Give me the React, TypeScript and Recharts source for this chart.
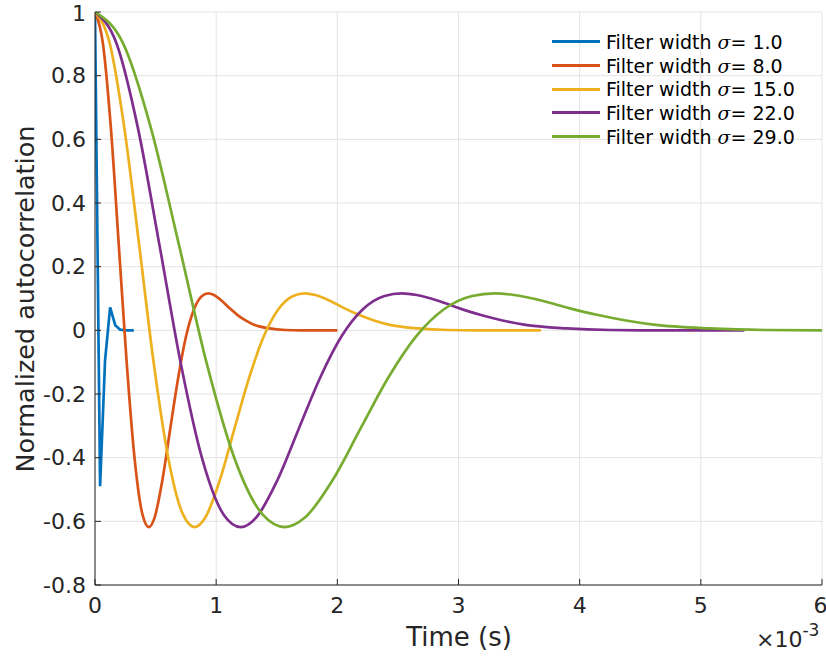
import { CartesianGrid, Line, LineChart, XAxis, YAxis } from "recharts";

const FONT = "'DejaVu Sans', sans-serif";
const AXIS = "#262626";

// time in units of 1e-3 s
const blueTime = [0, 0.042, 0.083, 0.125, 0.167, 0.208, 0.25, 0.292, 0.32];
const blueValues = [1, -0.49, -0.094, 0.072, 0.016, 0.002, 0, 0, 0];

const orangeTime = [
  0, 0.065, 0.131, 0.196, 0.262, 0.327, 0.392, 0.445, 0.491, 0.556, 0.621, 0.687, 0.752, 0.818,
  0.883, 0.935, 0.981, 1.046, 1.112, 1.177, 1.243, 1.308, 1.439, 1.57, 1.7, 1.831, 2.0,
];
const orangeValues = [
  1, 0.902, 0.636, 0.27, -0.104, -0.404, -0.579, -0.618, -0.589, -0.471, -0.309, -0.148, -0.018,
  0.067, 0.108, 0.116, 0.111, 0.093, 0.069, 0.048, 0.031, 0.018, 0.006, 0.001, 0, 0, 0,
];

const yellowTime = [
  0, 0.121, 0.242, 0.364, 0.485, 0.606, 0.727, 0.824, 0.909, 1.03, 1.151, 1.273, 1.394, 1.515,
  1.636, 1.733, 1.818, 1.939, 2.06, 2.182, 2.303, 2.424, 2.666, 2.909, 3.151, 3.394, 3.68,
];
const yellowValues = [
  1, 0.902, 0.636, 0.27, -0.104, -0.404, -0.579, -0.618, -0.589, -0.471, -0.309, -0.148, -0.018,
  0.067, 0.108, 0.116, 0.111, 0.093, 0.069, 0.048, 0.031, 0.018, 0.006, 0.001, 0, 0, 0,
];

const purpleTime = [
  0, 0.177, 0.354, 0.531, 0.708, 0.885, 1.062, 1.204, 1.328, 1.505, 1.682, 1.859, 2.036, 2.213,
  2.39, 2.531, 2.655, 2.832, 3.009, 3.186, 3.363, 3.54, 3.894, 4.248, 4.602, 4.956, 5.36,
];
const purpleValues = [
  1, 0.902, 0.636, 0.27, -0.104, -0.404, -0.579, -0.618, -0.589, -0.471, -0.309, -0.148, -0.018,
  0.067, 0.108, 0.116, 0.111, 0.093, 0.069, 0.048, 0.031, 0.018, 0.006, 0.001, 0, 0, 0,
];

const greenTime = [
  0, 0.231, 0.461, 0.692, 0.922, 1.153, 1.384, 1.568, 1.73, 1.96, 2.191, 2.421, 2.652, 2.883,
  3.113, 3.298, 3.459, 3.69, 3.92, 4.151, 4.381, 4.612, 5.073, 5.534, 6.0,
];
const greenValues = [
  1, 0.902, 0.636, 0.27, -0.104, -0.404, -0.579, -0.618, -0.589, -0.471, -0.309, -0.148, -0.018,
  0.067, 0.108, 0.116, 0.111, 0.093, 0.069, 0.048, 0.031, 0.018, 0.006, 0.001, 0,
];

const sigmaLabels = ["1.0", "8.0", "15.0", "22.0", "29.0"];
const colors = ["#0072BD", "#D95319", "#EDB120", "#7E2F8E", "#77AC30"];
const xTicks = [0, 1, 2, 3, 4, 5, 6];
const yTicks = [-0.8, -0.6, -0.4, -0.2, 0, 0.2, 0.4, 0.6, 0.8, 1];

const toPoints = (time: number[], values: number[]) =>
  time.map((t, i) => ({ t, v: values[i] }));

const series = [
  { data: toPoints(blueTime, blueValues), curve: "linear" },
  { data: toPoints(orangeTime, orangeValues), curve: "monotone" },
  { data: toPoints(yellowTime, yellowValues), curve: "monotone" },
  { data: toPoints(purpleTime, purpleValues), curve: "monotone" },
  { data: toPoints(greenTime, greenValues), curve: "monotone" },
];

const tickStyle = { fill: AXIS, fontSize: 22, fontFamily: FONT };

export default function App() {
  return (
    <div
      style={{
        position: "absolute",
        left: 0,
        top: 0,
        width: 826,
        height: 660,
        background: "#fff",
        fontFamily: FONT,
        color: AXIS,
      }}
    >
      <LineChart width={826} height={660} margin={{ top: 12, right: 4, left: 0, bottom: 0 }}>
        <CartesianGrid xAxisId="b" yAxisId="l" stroke="#e3e3e3" />
        <XAxis
          xAxisId="b"
          dataKey="t"
          type="number"
          domain={[0, 6]}
          ticks={xTicks}
          allowDataOverflow
          height={75}
          stroke={AXIS}
          tickSize={-6}
          tickMargin={18}
          tick={tickStyle}
        />
        <XAxis
          xAxisId="top"
          orientation="top"
          type="number"
          domain={[0, 6]}
          ticks={xTicks}
          height={0}
          stroke={AXIS}
          tickSize={-6}
          tickFormatter={() => ""}
        />
        <YAxis
          yAxisId="l"
          type="number"
          domain={[-0.8, 1]}
          ticks={yTicks}
          allowDataOverflow
          width={95}
          stroke={AXIS}
          tickSize={-6}
          tickMargin={15}
          tick={tickStyle}
          tickFormatter={(v: number) => String(Number(v.toFixed(1)))}
        />
        <YAxis
          yAxisId="r"
          orientation="right"
          type="number"
          domain={[-0.8, 1]}
          ticks={yTicks}
          width={0}
          stroke={AXIS}
          tickSize={-6}
          tickFormatter={() => ""}
        />
        {series.map((s, i) => (
          <Line
            key={i}
            xAxisId="b"
            yAxisId="l"
            data={s.data}
            dataKey="v"
            type={s.curve as "linear" | "monotone"}
            stroke={colors[i]}
            strokeWidth={2.7}
            dot={false}
            isAnimationActive={false}
          />
        ))}
      </LineChart>

      {/* legend */}
      <div style={{ position: "absolute", left: 552, top: 30, fontSize: 19 }}>
        {sigmaLabels.map((lab, i) => (
          <div key={lab} style={{ display: "flex", alignItems: "center", height: 23.7 }}>
            <div style={{ width: 48, height: 3, background: colors[i], marginRight: 6 }} />
            <span style={{ whiteSpace: "nowrap", color: "#000" }}>
              Filter width{" "}
              <span style={{ fontFamily: "'DejaVu Serif', serif", fontStyle: "italic" }}>σ</span>= {lab}
            </span>
          </div>
        ))}
      </div>

      {/* axis labels */}
      <div
        style={{
          position: "absolute",
          left: 459,
          top: 637,
          transform: "translate(-50%, -50%)",
          fontSize: 26,
          whiteSpace: "nowrap",
        }}
      >
        Time (s)
      </div>
      <div
        style={{
          position: "absolute",
          left: 25,
          top: 299,
          transform: "translate(-50%, -50%) rotate(-90deg)",
          fontSize: 25.5,
          whiteSpace: "nowrap",
        }}
      >
        Normalized autocorrelation
      </div>
      <div style={{ position: "absolute", left: 756, top: 627, fontSize: 22, whiteSpace: "nowrap" }}>
        ×10<sup style={{ fontSize: 17, verticalAlign: "top", position: "relative", top: -7 }}>-3</sup>
      </div>
    </div>
  );
}
